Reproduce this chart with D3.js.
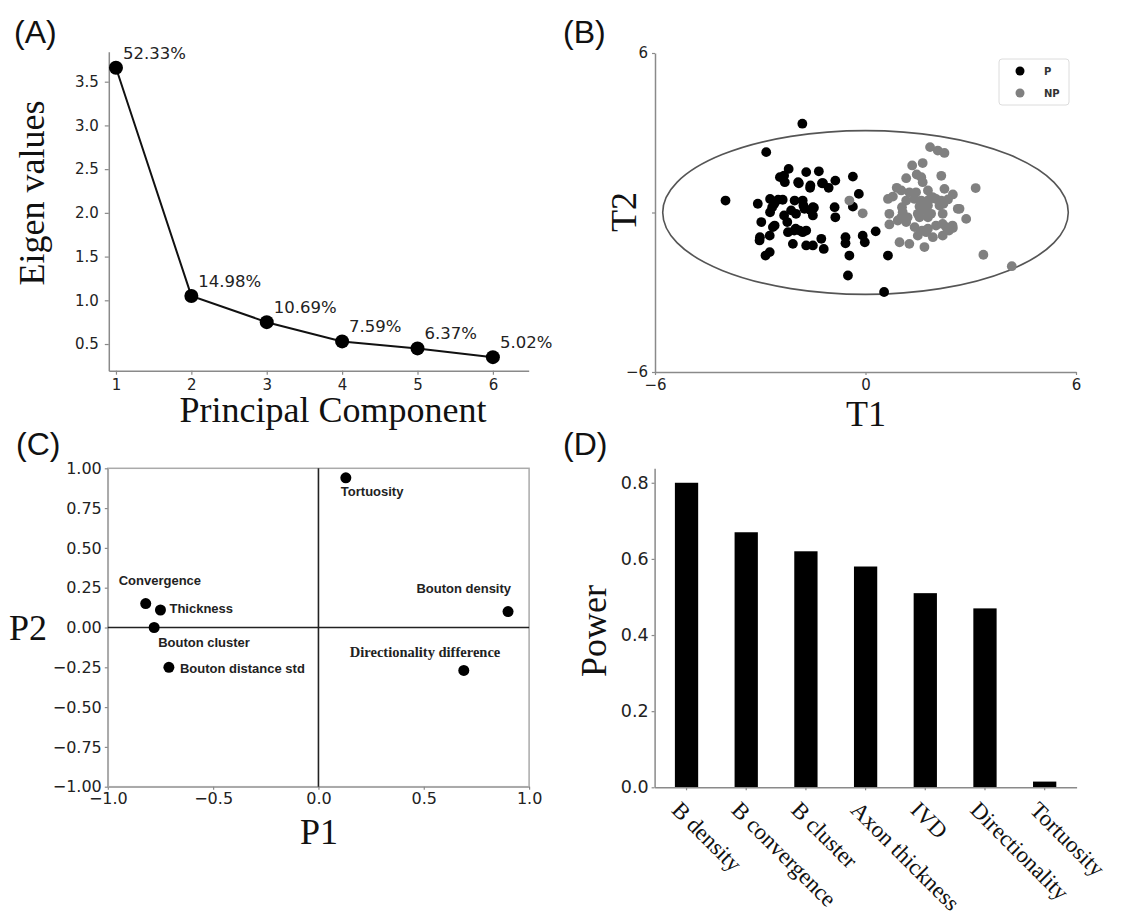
<!DOCTYPE html>
<html>
<head>
<meta charset="utf-8">
<script src="https://cdn.jsdelivr.net/npm/d3@7"></script>
<style>
  body { margin: 0; background: #fff; }
  svg { display: block; }
</style>
</head>
<body>
<div id="chart"></div>
<script>
// (A) scree plot
var pcs = [1, 2, 3, 4, 5, 6];
var eigenValues = [3.66, 1.05, 0.75, 0.53, 0.45, 0.35];
var varExplained = ["52.33%", "14.98%", "10.69%", "7.59%", "6.37%", "5.02%"];

// (B) scores, [T1, T2]
var scoresP = [
  [-1.80, 3.34], [-2.83, 2.27], [-3.99, 0.45],
  [-2.19, 1.64], [-2.32, 1.39], [-2.30, 1.14], [-1.69, 1.52], [-1.33, 1.55], [-1.90, 1.10],
  [-1.58, 0.93], [-1.24, 1.10], [-1.05, 0.93], [-0.86, 1.20], [-0.36, 1.35],
  [-3.07, 0.33], [-2.72, 0.51], [-2.60, 0.33], [-2.36, 0.48], [-2.72, 0.01], [-2.32, -0.11],
  [-2.12, 0.08], [-2.02, 0.45], [-1.79, 0.45], [-1.74, 0.14], [-1.50, 0.20], [-1.50, -0.11],
  [-0.88, 0.20], [-0.86, -0.18],
  [-2.97, -0.36], [-2.59, -0.49], [-3.01, -0.93], [-3.02, -1.05], [-2.73, -0.87], [-2.21, -0.74],
  [-1.99, -0.61], [-1.79, -0.74], [-2.07, -1.18], [-1.69, -1.24], [-1.50, -1.24], [-1.26, -0.99],
  [-1.19, -1.37], [-2.85, -1.62], [-2.73, -1.49],
  [-0.57, -0.93], [-0.57, -1.16], [-0.46, -1.62], [-0.50, -2.37],
  [-0.19, 0.70], [-0.36, 0.22], [-0.08, -0.87], [-0.02, -1.12], [0.29, -0.71], [0.64, -1.62], [0.53, -2.99],
  [-2.49, 0.48], [-2.66, 0.20], [-2.23, -0.36], [-1.98, -0.05], [-1.88, -0.68], [-1.69, -0.68],
  [-1.77, 0.26], [-1.57, 0.08], [-1.47, 0.18], [-2.03, -0.68], [-2.64, -0.55], [-2.44, 1.33],
  [-1.92, 1.14], [-1.57, 1.02], [-1.21, 1.10]
];
var scoresNP = [
  [1.84, 2.46], [2.06, 2.33], [2.25, 2.24], [1.33, 1.77], [1.63, 1.86], [1.46, 1.43], [1.59, 1.33],
  [2.16, 1.38], [1.16, 1.29], [1.63, 1.14], [0.89, 0.93], [1.02, 0.83], [1.25, 0.76], [1.44, 0.76],
  [1.78, 0.83], [2.25, 0.89], [2.49, 0.68], [3.14, 0.92], [0.64, 0.51], [0.78, 0.60], [1.16, 0.45],
  [1.40, 0.51], [1.59, 0.45], [1.81, 0.48], [2.01, 0.51], [2.16, 0.45], [2.35, 0.49], [1.54, 0.23],
  [1.78, 0.26], [2.11, 0.26], [2.63, 0.14], [-0.08, -0.03], [0.68, -0.05], [1.06, 0.01], [1.02, -0.18],
  [1.49, -0.05], [1.68, 0.08], [1.87, -0.05], [2.20, -0.05], [2.87, -0.24], [-0.46, 0.45], [0.68, -0.45],
  [0.92, -0.30], [1.16, -0.36], [1.54, -0.18], [1.78, -0.18], [1.40, -0.55], [1.78, -0.61], [2.01, -0.49],
  [2.30, -0.55], [2.49, -0.58], [2.20, -0.43], [0.97, -1.12], [1.25, -1.18], [1.49, -0.87], [1.73, -0.74],
  [1.92, -0.93], [2.20, -0.87], [1.68, -1.30], [3.36, -1.59], [4.17, -2.02],
  [1.91, 0.58], [1.71, 0.20], [2.22, 0.33], [1.04, 0.20], [1.20, -0.18], [1.61, -0.68], [2.38, -0.68],
  [2.48, -0.49], [2.68, 0.14]
];
var ellipseT1 = 5.78;
var ellipseT2 = 3.08;

// (C) loadings
var features = ["Tortuosity", "Convergence", "Thickness", "Bouton cluster",
  "Bouton distance std", "Bouton density", "Directionality difference"];
var loadP1 = [0.13, -0.82, -0.75, -0.78, -0.71, 0.90, 0.69];
var loadP2 = [0.94, 0.15, 0.11, 0.00, -0.25, 0.10, -0.27];

// (D) discriminating power
var powerNames = ["B density", "B convergence", "B cluster", "Axon thickness",
  "IVD", "Directionality", "Tortuosity"];
var powerValues = [0.80, 0.67, 0.62, 0.58, 0.51, 0.47, 0.015];

var W = 1126, H = 920;
var SANS = "DejaVu Sans, sans-serif";
var SERIF = "Liberation Serif, Times New Roman, serif";
var spine = "#8a8a8a";
var ink = "#222";

var svg = d3.select("#chart").append("svg")
  .attr("width", W).attr("height", H)
  .style("font-family", SANS);

function styleAxis(g, size) {
  g.select(".domain").attr("stroke", spine).attr("stroke-width", 1.5);
  g.selectAll(".tick line").attr("stroke", spine).attr("stroke-width", 1.2);
  g.selectAll(".tick text").attr("fill", ink).style("font-size", size + "px")
    .style("font-family", SANS);
}

function panelLetter(txt, x, y) {
  svg.append("text").attr("x", x).attr("y", y).text(txt)
    .style("font-family", "Liberation Sans, Arial, sans-serif").style("font-size", "32px").attr("fill", "#111");
}

function serifLabel(txt, x, y, rot) {
  var t = svg.append("text").text(txt).attr("text-anchor", "middle")
    .style("font-family", SERIF).style("font-size", "36px").attr("fill", "#111");
  if (rot) t.attr("transform", "translate(" + x + "," + y + ") rotate(-90)");
  else t.attr("x", x).attr("y", y);
  return t;
}

var minus = function(s) { return s.replace("-", "\u2212"); };

// ---------- (A)
var xA = d3.scaleLinear().domain([0.905, 6.475]).range([108.8, 528.7]);
var yA = d3.scaleLinear().domain([0.195, 3.843]).range([370.7, 51.7]);
var gA = svg.append("g");
gA.append("g").attr("transform", "translate(0," + yA.range()[0] + ")")
  .call(d3.axisBottom(xA).tickValues(pcs).tickFormat(d3.format("d")).tickSize(4).tickPadding(5).tickSizeOuter(0))
  .call(styleAxis, 15);
gA.append("g").attr("transform", "translate(" + xA.range()[0] + ",0)")
  .call(d3.axisLeft(yA).tickValues([0.5, 1, 1.5, 2, 2.5, 3, 3.5]).tickFormat(d3.format(".1f")).tickSize(4).tickPadding(6).tickSizeOuter(0))
  .call(styleAxis, 15);

var scree = pcs.map(function(d, i) { return {pc: d, ev: eigenValues[i], pct: varExplained[i]}; });
gA.append("path").datum(scree)
  .attr("fill", "none").attr("stroke", "#111").attr("stroke-width", 2)
  .attr("d", d3.line().x(function(d) { return xA(d.pc); }).y(function(d) { return yA(d.ev); }));
gA.selectAll("circle").data(scree).enter().append("circle")
  .attr("cx", function(d) { return xA(d.pc); })
  .attr("cy", function(d) { return yA(d.ev); })
  .attr("r", 7).attr("fill", "#000");
gA.selectAll(".pct").data(scree).enter().append("text")
  .attr("x", function(d) { return xA(d.pc) + 7; })
  .attr("y", function(d) { return yA(d.ev) - 9; })
  .text(function(d) { return d.pct; })
  .style("font-size", "16.5px").attr("fill", ink);

panelLetter("(A)", 14, 43);
serifLabel("Eigen values", 44, 193, true);
serifLabel("Principal Component", 333, 422);

// ---------- (B)
var xB = d3.scaleLinear().domain([-6, 6]).range([655, 1076]);
var yB = d3.scaleLinear().domain([-6, 6]).range([372, 53]);
var gB = svg.append("g");
gB.append("g").attr("transform", "translate(0," + yB.range()[0] + ")")
  .call(d3.axisBottom(xB).tickValues([-6, 0, 6]).tickFormat(function(d) { return minus(String(d)); }).tickSize(3).tickPadding(4).tickSizeOuter(0))
  .call(styleAxis, 15);
gB.append("g").attr("transform", "translate(" + xB.range()[0] + ",0)")
  .call(d3.axisLeft(yB).tickValues([-6, 0, 6]).tickFormat(function(d) { return d === 0 ? "" : minus(String(d)); }).tickSize(3).tickPadding(4).tickSizeOuter(0))
  .call(styleAxis, 15);

gB.append("ellipse")
  .attr("cx", xB(0)).attr("cy", yB(0))
  .attr("rx", xB(ellipseT1) - xB(0)).attr("ry", yB(0) - yB(ellipseT2))
  .attr("fill", "none").attr("stroke", "#555").attr("stroke-width", 1.6);

gB.selectAll(".p").data(scoresP).enter().append("circle")
  .attr("cx", function(d) { return xB(d[0]); })
  .attr("cy", function(d) { return yB(d[1]); })
  .attr("r", 4.9).attr("fill", "#000");
gB.selectAll(".np").data(scoresNP).enter().append("circle")
  .attr("cx", function(d) { return xB(d[0]); })
  .attr("cy", function(d) { return yB(d[1]); })
  .attr("r", 4.9).attr("fill", "#808080");

var legB = gB.append("g").attr("transform", "translate(999,59)");
legB.append("rect").attr("width", 70).attr("height", 46).attr("rx", 3)
  .attr("fill", "#fff").attr("stroke", "#dcdcdc");
[["P", "#000"], ["NP", "#808080"]].forEach(function(e, i) {
  legB.append("circle").attr("cx", 21).attr("cy", 12 + i * 22).attr("r", 4.5).attr("fill", e[1]);
  legB.append("text").attr("x", 45).attr("y", 16 + i * 22).text(e[0])
    .style("font-size", "10px").style("font-weight", "bold").attr("fill", "#333");
});

panelLetter("(B)", 563, 43);
serifLabel("T2", 636, 212, true);
serifLabel("T1", 866, 426);

// ---------- (C)
var xC = d3.scaleLinear().domain([-1, 1]).range([107.8, 529.1]);
var yC = d3.scaleLinear().domain([-1, 1]).range([786.7, 468.3]);
var gC = svg.append("g");
gC.append("rect")
  .attr("x", xC(-1)).attr("y", yC(1))
  .attr("width", xC(1) - xC(-1)).attr("height", yC(-1) - yC(1))
  .attr("fill", "none").attr("stroke", "#aaa").attr("stroke-width", 1.5);
gC.append("g").attr("transform", "translate(0," + yC.range()[0] + ")")
  .call(d3.axisBottom(xC).tickValues([-1, -0.5, 0, 0.5, 1]).tickFormat(function(d) { return minus(d3.format(".1f")(d)); }).tickSize(3).tickPadding(3).tickSizeOuter(0))
  .call(styleAxis, 16);
gC.append("g").attr("transform", "translate(" + xC.range()[0] + ",0)")
  .call(d3.axisLeft(yC).tickValues(d3.range(-1, 1.01, 0.25)).tickFormat(function(d) { return minus(d3.format(".2f")(d)); }).tickSize(3).tickPadding(3).tickSizeOuter(0))
  .call(styleAxis, 16);
gC.selectAll(".domain").attr("stroke", "#aaa");
gC.append("line").attr("x1", xC(0)).attr("x2", xC(0)).attr("y1", yC(1)).attr("y2", yC(-1))
  .attr("stroke", "#222").attr("stroke-width", 1.6);
gC.append("line").attr("x1", xC(-1)).attr("x2", xC(1)).attr("y1", yC(0)).attr("y2", yC(0))
  .attr("stroke", "#222").attr("stroke-width", 1.6);

// label placement relative to each point, in px
var loadLabelPos = [[-5, 18, "start"], [-27, -19, "start"], [9, 3, "start"], [4, 19, "start"],
  [11, 6, "start"], [3, -19, "end"], [-114, -13, "start"]];
var loads = features.map(function(f, i) { return {name: f, p1: loadP1[i], p2: loadP2[i], pos: loadLabelPos[i]}; });
gC.selectAll(".ld").data(loads).enter().append("circle")
  .attr("cx", function(d) { return xC(d.p1); })
  .attr("cy", function(d) { return yC(d.p2); })
  .attr("r", 5.5).attr("fill", "#000");
gC.selectAll(".ldl").data(loads).enter().append("text")
  .attr("x", function(d) { return xC(d.p1) + d.pos[0]; })
  .attr("y", function(d) { return yC(d.p2) + d.pos[1]; })
  .attr("text-anchor", function(d) { return d.pos[2]; })
  .text(function(d) { return d.name; })
  .style("font-weight", "bold")
  .style("font-family", function(d) { return d.name === "Directionality difference" ? SERIF : "Liberation Sans, Arial, sans-serif"; })
  .style("font-size", function(d) { return d.name === "Directionality difference" ? "14.5px" : "13px"; })
  .attr("fill", ink);

panelLetter("(C)", 16, 455);
serifLabel("P2", 28, 640);
serifLabel("P1", 319, 844);

// ---------- (D)
var xD = d3.scaleBand().domain(powerNames).range([654.6, 1076.6]).paddingInner(0.61).paddingOuter(0.34);
var yD = d3.scaleLinear().domain([0, 0.838]).range([787.3, 468.3]);
var gD = svg.append("g");
gD.selectAll("rect").data(powerNames).enter().append("rect")
  .attr("x", function(d) { return xD(d); })
  .attr("y", function(d, i) { return yD(powerValues[i]); })
  .attr("width", xD.bandwidth())
  .attr("height", function(d, i) { return yD(0) - yD(powerValues[i]); })
  .attr("fill", "#000");
var axD = gD.append("g").attr("transform", "translate(0," + yD.range()[0] + ")")
  .call(d3.axisBottom(xD).tickSize(3).tickSizeOuter(0))
  .call(styleAxis, 23);
axD.selectAll(".tick text")
  .attr("y", 0).attr("dy", null)
  .attr("text-anchor", "start")
  .attr("transform", "translate(-16,24) rotate(45)")
  .style("font-family", SERIF).style("font-size", "23px").attr("fill", "#111");
gD.append("g").attr("transform", "translate(" + xD.range()[0] + ",0)")
  .call(d3.axisLeft(yD).tickValues([0, 0.2, 0.4, 0.6, 0.8]).tickFormat(d3.format(".1f")).tickSize(3).tickPadding(3).tickSizeOuter(0))
  .call(styleAxis, 17.5);

panelLetter("(D)", 563, 455);
serifLabel("Power", 606, 631, true);
</script>
</body>
</html>
